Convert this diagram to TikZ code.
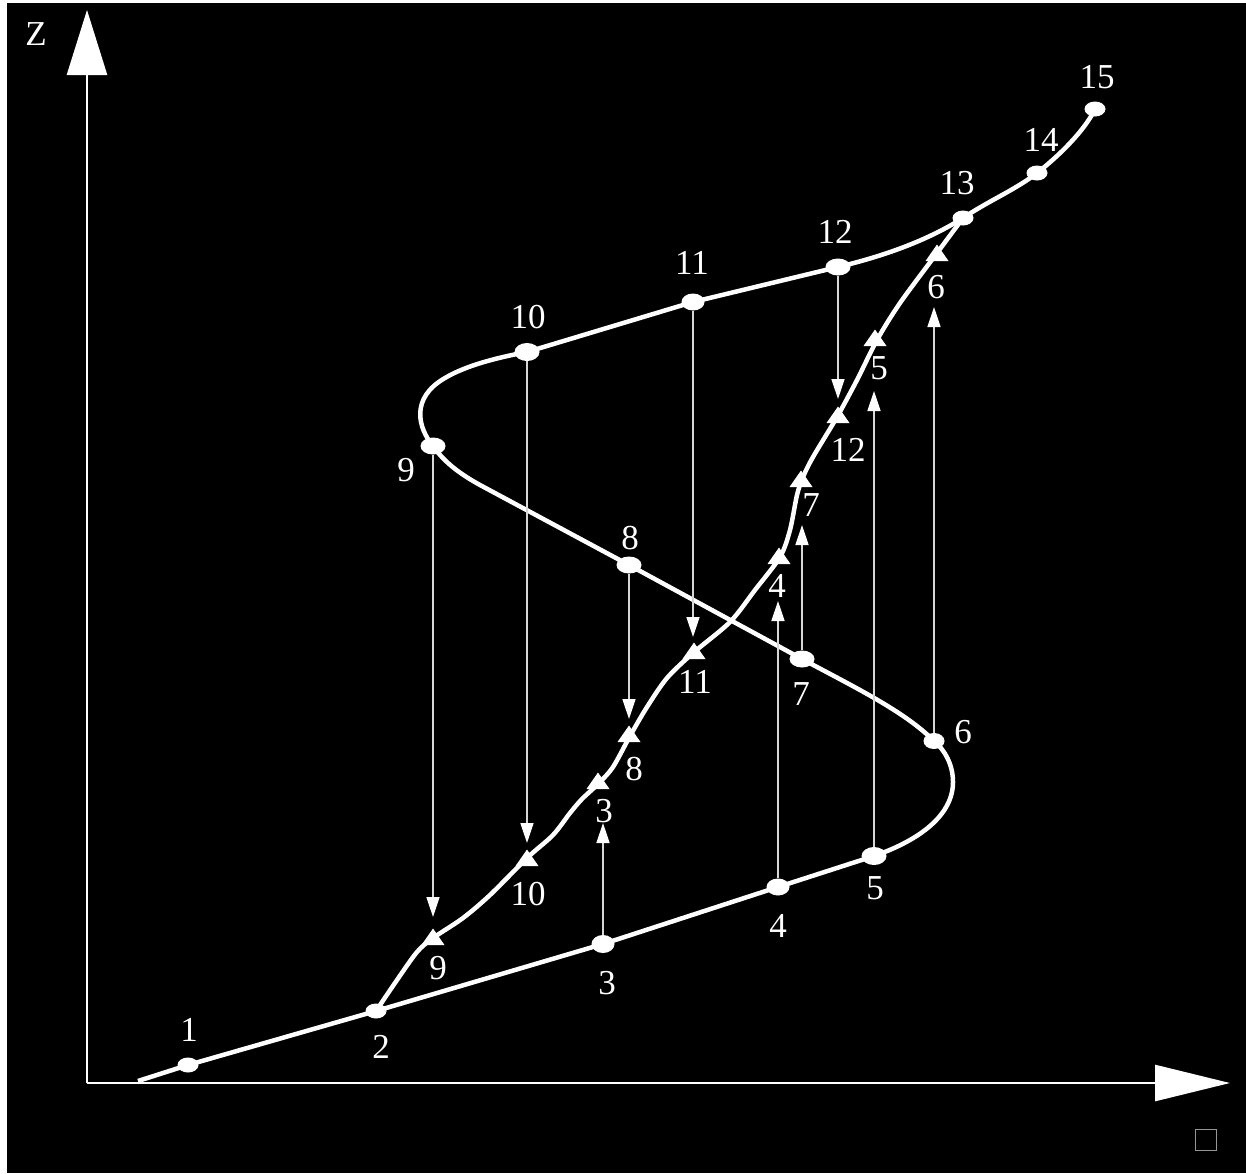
\documentclass[tikz,border=0pt]{standalone}
\usepackage{fontspec}
\setmainfont{Liberation Serif}
\usetikzlibrary{arrows.meta,shapes.geometric,calc}
\definecolor{projgray}{RGB}{215,215,215}
\definecolor{boxgray}{RGB}{150,150,150}
\tikzset{
  dot/.style={ellipse, fill=white, inner sep=0pt, minimum width=23pt, minimum height=17pt},
  sdot/.style={dot, minimum width=21pt, minimum height=15pt},
  lbl/.style={text=white, font=\fontsize{35}{40}\selectfont, inner sep=0pt},
  curve/.style={white, line width=4.5pt, line join=round},
  proj/.style={draw=projgray, line width=1.6pt, -{Triangle[length=20pt,width=13pt,fill=white,color=white]}},
  axis/.style={white, line width=2.6pt}
}
\begin{document}
\begin{tikzpicture}[x=1pt,y=-1pt]
\fill[white] (0,0) rectangle (1246,1173);
\fill[black] (7,3) rectangle (1246,1173);
\useasboundingbox (0,0) rectangle (1246,1173);

% axes
\coordinate (O) at (87,1083);
\coordinate (ztip) at (87,10);
\coordinate (xtip) at (1230,1083);
\draw[axis, -{Triangle[length=65pt,width=40pt]}] (O) -- (ztip);
\draw[axis, -{Triangle[length=75pt,width=36pt]}] (O) -- (xtip);
\node[lbl] (zlab) at (36,34) {Z};
\node[draw=boxgray, line width=1pt, minimum size=21pt, inner sep=0pt] (qed) at (1206,1140) {};

% main curve
\coordinate (s0) at (138,1081);
\draw[curve] (s0) -- (188,1065) -- (376,1011) -- (603,944) -- (778,887) -- (874,856)
  .. controls (920,840) and (953,815) .. (953,782)
  .. controls (953,765) and (945,750) .. (934,741)
  .. controls (905,712) and (860,690) .. (802,659)
  -- (629,565) -- (480,485)
  .. controls (460,474) and (444,462) .. (433,446)
  .. controls (418,428) and (410,398) .. (445,378)
  .. controls (465,366) and (495,358) .. (527,352)
  -- (693,302) -- (838,267)
  .. controls (880,257) and (925,242) .. (963,218)
  .. controls (990,200) and (1015,190) .. (1037,173)
  .. controls (1060,155) and (1085,130) .. (1095,109);

% second curve
\draw[curve] plot[smooth, tension=0.5] coordinates {
  (376,1011) (397,980) (417,952) (433,938) (463,918) (490,895) (527,858)
  (553,835) (570,813) (582,799) (598,784) (613,767) (630,736) (647,707)
  (667,678) (693,653) (730,622) (755,590) (780,557) (790,530) (797,495)
  (803,477) (813,457) (837,417) (857,380) (877,340) (900,303) (937,253) (963,218)};

% dots
\node[sdot] (d1) at (188,1065) {};
\node[sdot] (d2) at (376,1011) {};
\node[dot, minimum height=18pt] (d3) at (603,944) {};
\node[dot] (d4) at (778,887) {};
\node[dot, minimum width=25pt, minimum height=18pt] (d5) at (874,856) {};
\node[sdot, minimum height=16pt] (d6) at (934,741) {};
\node[dot, minimum width=25pt] (d7) at (802,659) {};
\node[dot, minimum width=25pt] (d8) at (629,565) {};
\node[dot, minimum width=25pt] (d9) at (433,446) {};
\node[dot, minimum width=25pt, minimum height=18pt] (d10) at (527,352) {};
\node[dot] (d11) at (693,302) {};
\node[dot, minimum width=25pt] (d12) at (838,267) {};
\node[sdot] (d13) at (963,218) {};
\node[sdot] (d14) at (1037,173) {};
\node[sdot] (d15) at (1095,109) {};

% direction markers on second curve
\foreach \n/\x/\y in {9/433/937, 10/527/858, 3/598/781, 8/629/734, 11/694/651,
                      4/779/556, 7/801/479, 12/838/415, 5/875/338, 6/937/253} {
  \coordinate (m\n) at (\x,\y);
  \fill[white] ($(m\n)+(-11.5,8)$) -- ($(m\n)+(11.5,8)$) -- ($(m\n)+(0,-8.5)$) -- cycle;
}

% projection arrows
\coordinate (e9) at (433,917);
\coordinate (e10) at (527,843);
\coordinate (e11) at (693,637);
\coordinate (e8) at (629,719);
\coordinate (e12) at (838,399);
\coordinate (u3) at (603,823);
\coordinate (u4) at (778,601);
\coordinate (u7) at (802,525);
\coordinate (u5) at (874,391);
\coordinate (u6) at (934,307);
\draw[proj] (d9) -- (e9);
\draw[proj] (d10) -- (e10);
\draw[proj] (d11) -- (e11);
\draw[proj] (d8) -- (e8);
\draw[proj] (d12) -- (e12);
\draw[proj] (d3) -- (u3);
\draw[proj] (d4) -- (u4);
\draw[proj] (d7) -- (u7);
\draw[proj] (d5) -- (u5);
\draw[proj] (d6) -- (u6);

% labels main curve
\node[lbl] (l1) at (189,1030) {1};
\node[lbl] (l2) at (381,1047) {2};
\node[lbl] (l3) at (607,983) {3};
\node[lbl] (l4) at (778,926) {4};
\node[lbl] (l5) at (875,888) {5};
\node[lbl] (l6) at (963,732) {6};
\node[lbl] (l7) at (801,694) {7};
\node[lbl] (l8) at (630,538) {8};
\node[lbl] (l9) at (406,470) {9};
\node[lbl] (l10) at (528,317) {10};
\node[lbl] (l11) at (692,263) {11};
\node[lbl] (l12) at (835,232) {12};
\node[lbl] (l13) at (957,183) {13};
\node[lbl] (l14) at (1041,140) {14};
\node[lbl] (l15) at (1097,77) {15};

% labels second curve
\node[lbl] (k9) at (438,968) {9};
\node[lbl] (k10) at (528,894) {10};
\node[lbl] (k3) at (604,811) {3};
\node[lbl] (k8) at (634,769) {8};
\node[lbl] (k11) at (695,682) {11};
\node[lbl] (k4) at (777,586) {4};
\node[lbl] (k7) at (811,505) {7};
\node[lbl] (k12) at (848,450) {12};
\node[lbl] (k5) at (879,368) {5};
\node[lbl] (k6) at (936,287) {6};
\end{tikzpicture}
\end{document}
